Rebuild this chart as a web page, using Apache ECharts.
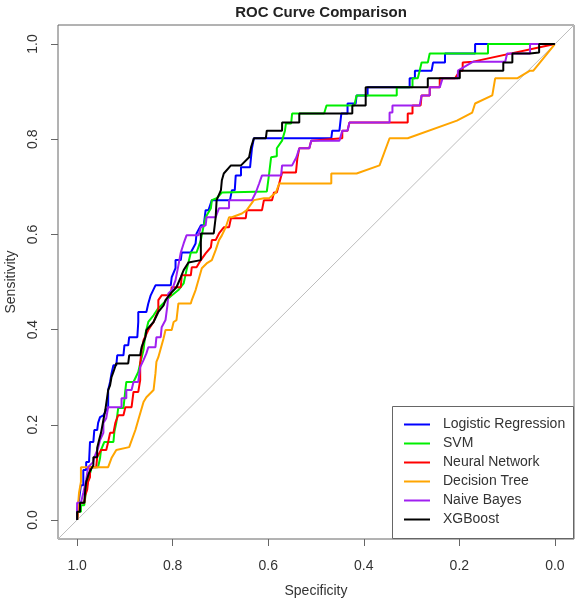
<!DOCTYPE html>
<html><head><meta charset="utf-8">
<script src="https://cdn.jsdelivr.net/npm/echarts@6/dist/echarts.min.js"></script>
<style>html,body{margin:0;padding:0;background:#fff}#c{width:578px;height:601px}</style>
</head><body><div id="c"></div>
<script>
// ---- data (specificity, sensitivity) ----
const modelNames = ['Logistic Regression','SVM','Neural Network','Decision Tree','Naive Bayes','XGBoost'];
const modelColors = ['#0000ff','#00ee00','#ff0000','#ffa500','#a020f0','#000000'];
const tickValues = [0, 0.2, 0.4, 0.6, 0.8, 1.0];
const chanceLine = [[1.04,-0.04],[-0.04,1.04]];

const logisticRoc = [[1,0],[1,.021],[.996,.021],[.996,.042],[.992,.042],[.992,.073],[.987,.073],[.987,.105],[.981,.105],[.981,.122],[.975,.122],[.973,.164],[.966,.164],[.964,.189],[.958,.189],[.956,.204],[.952,.216],[.945,.220],[.935,.237],[.935,.273],[.931,.290],[.928,.308],[.924,.325],[.918,.325],[.916,.346],[.903,.346],[.901,.367],[.893,.367],[.891,.384],[.874,.384],[.872,.416],[.872,.437],[.855,.437],[.851,.455],[.846,.472],[.836,.493],[.804,.493],[.802,.510],[.794,.529],[.794,.546],[.783,.546],[.781,.562],[.762,.562],[.752,.581],[.750,.602],[.741,.619],[.735,.619],[.731,.651],[.725,.651],[.718,.672],[.680,.672],[.676,.693],[.670,.693],[.668,.724],[.657,.724],[.657,.741],[.638,.741],[.636,.762],[.634,.781],[.630,.802],[.468,.802],[.466,.818],[.451,.818],[.447,.854],[.434,.854],[.434,.875],[.417,.875],[.415,.892],[.392,.892],[.392,.909],[.304,.909],[.304,.928],[.293,.928],[.293,.944],[.258,.944],[.255,.961],[.230,.961],[.230,.980],[.167,.980],[.167,1],[0,1]];

const svmRoc = [[1,0],[.998,0],[.998,.017],[.992,.017],[.992,.031],[.985,.031],[.981,.063],[.977,.084],[.975,.090],[.971,.105],[.971,.111],[.956,.111],[.952,.130],[.950,.147],[.943,.164],[.924,.164],[.922,.185],[.918,.204],[.914,.235],[.903,.235],[.899,.273],[.897,.290],[.882,.290],[.872,.311],[.868,.329],[.861,.357],[.857,.392],[.851,.416],[.840,.430],[.830,.445],[.813,.462],[.804,.470],[.788,.483],[.777,.497],[.771,.525],[.767,.541],[.762,.562],[.750,.562],[.741,.588],[.735,.619],[.731,.636],[.720,.655],[.718,.672],[.708,.676],[.697,.688],[.603,.690],[.598,.728],[.594,.762],[.582,.764],[.582,.781],[.571,.797],[.565,.818],[.563,.833],[.552,.833],[.550,.854],[.483,.854],[.478,.871],[.420,.871],[.415,.892],[.331,.892],[.331,.909],[.298,.909],[.298,.928],[.287,.928],[.283,.944],[.279,.961],[.266,.961],[.262,.980],[.140,.980],[.140,1],[0,1]];

const neuralRoc = [[1,0],[.998,0],[.998,.017],[.994,.017],[.994,.036],[.985,.036],[.983,.052],[.979,.063],[.977,.080],[.973,.090],[.973,.111],[.960,.111],[.958,.132],[.950,.147],[.939,.147],[.935,.164],[.931,.183],[.924,.183],[.920,.204],[.914,.220],[.903,.220],[.899,.237],[.886,.237],[.882,.269],[.872,.269],[.868,.294],[.868,.329],[.865,.357],[.861,.378],[.851,.399],[.840,.416],[.836,.420],[.830,.441],[.830,.462],[.823,.472],[.804,.472],[.802,.489],[.783,.489],[.781,.514],[.762,.514],[.760,.531],[.750,.531],[.741,.546],[.731,.560],[.720,.573],[.718,.588],[.710,.588],[.703,.602],[.693,.615],[.682,.615],[.678,.634],[.647,.634],[.645,.651],[.613,.651],[.609,.672],[.592,.672],[.588,.688],[.582,.688],[.577,.707],[.573,.709],[.571,.730],[.542,.730],[.539,.760],[.535,.781],[.514,.781],[.510,.797],[.445,.802],[.445,.818],[.434,.818],[.430,.835],[.308,.835],[.308,.854],[.298,.854],[.298,.871],[.281,.871],[.279,.892],[.262,.892],[.262,.909],[.241,.909],[.241,.928],[.209,.928],[.199,.944],[.193,.944],[.193,.961],[.171,.963],[0,1]];

const treeRoc = [[1,0],[.998,.031],[.996,.057],[.992,.080],[.992,.111],[.935,.111],[.928,.130],[.918,.147],[.891,.153],[.878,.189],[.872,.210],[.861,.248],[.855,.258],[.840,.273],[.836,.308],[.834,.332],[.830,.342],[.819,.382],[.815,.399],[.802,.399],[.798,.416],[.792,.420],[.788,.455],[.762,.455],[.760,.462],[.752,.483],[.746,.504],[.739,.529],[.729,.539],[.718,.546],[.710,.567],[.703,.588],[.697,.598],[.689,.615],[.682,.636],[.676,.636],[.655,.644],[.645,.651],[.630,.672],[.609,.676],[.598,.676],[.584,.688],[.577,.707],[.468,.707],[.468,.728],[.415,.728],[.367,.745],[.346,.802],[.308,.802],[.205,.839],[.173,.856],[.167,.875],[.131,.892],[.125,.928],[.079,.928],[.052,.944],[.045,.944],[0,1]];

const bayesRoc = [[1,0],[1,.036],[.992,.036],[.987,.057],[.981,.084],[.977,.111],[.966,.122],[.964,.132],[.956,.151],[.952,.168],[.945,.183],[.945,.204],[.939,.214],[.935,.237],[.907,.237],[.907,.256],[.897,.256],[.897,.273],[.886,.273],[.882,.290],[.872,.290],[.868,.321],[.861,.336],[.855,.350],[.851,.363],[.836,.363],[.834,.384],[.825,.384],[.823,.405],[.815,.420],[.811,.451],[.809,.476],[.802,.483],[.798,.493],[.794,.504],[.788,.535],[.783,.562],[.777,.581],[.771,.598],[.746,.598],[.741,.615],[.731,.619],[.729,.636],[.710,.636],[.703,.655],[.682,.655],[.682,.672],[.634,.672],[.626,.688],[.619,.707],[.613,.724],[.573,.724],[.571,.745],[.550,.745],[.541,.762],[.535,.781],[.514,.781],[.510,.797],[.451,.797],[.445,.818],[.434,.818],[.430,.835],[.346,.835],[.346,.856],[.340,.856],[.340,.871],[.283,.871],[.279,.892],[.262,.892],[.262,.909],[.241,.909],[.235,.928],[.203,.928],[.203,.944],[.171,.963],[.104,.963],[.100,.980],[.052,.980],[.052,1],[0,1]];

const xgbRoc = [[1,0],[1,.017],[.994,.017],[.994,.036],[.985,.036],[.983,.063],[.981,.080],[.975,.099],[.966,.115],[.966,.132],[.958,.132],[.958,.151],[.954,.168],[.950,.183],[.945,.210],[.941,.231],[.935,.273],[.931,.283],[.928,.300],[.924,.311],[.918,.329],[.893,.329],[.891,.346],[.868,.346],[.865,.363],[.857,.384],[.855,.399],[.851,.403],[.840,.416],[.830,.437],[.819,.451],[.815,.462],[.804,.476],[.792,.489],[.783,.510],[.777,.525],[.767,.541],[.741,.546],[.741,.602],[.714,.602],[.710,.636],[.708,.672],[.699,.693],[.697,.714],[.693,.728],[.678,.745],[.657,.745],[.640,.762],[.636,.783],[.630,.802],[.605,.802],[.603,.818],[.571,.818],[.571,.835],[.535,.835],[.535,.854],[.424,.854],[.424,.871],[.396,.871],[.396,.909],[.266,.909],[.266,.928],[.199,.928],[.199,.944],[.108,.944],[.108,.961],[.089,.961],[.089,.980],[.052,.980],[.033,.982],[.033,1],[0,1]];

const rocData = [logisticRoc, svmRoc, neuralRoc, treeRoc, bayesRoc, xgbRoc];

// ---- chart ----
const font = '"Liberation Sans", Arial, Helvetica, sans-serif';
const chart = echarts.init(document.getElementById('c'), null, {renderer: 'canvas'});
const axisCommon = {
  type: 'value', min: -0.04, max: 1.04,
  nameLocation: 'middle',
  nameTextStyle: {fontSize: 14, color: '#333', fontFamily: font},
  axisLine: {show: false, onZero: false},
  axisTick: {show: true, inside: false, length: 7, customValues: tickValues, lineStyle: {color: '#666', width: 1}},
  splitLine: {show: false}
};
const series = [{
  type: 'line', data: chanceLine, symbol: 'none', silent: true, z: 1,
  lineStyle: {color: '#bdbdbd', width: 1}, animation: false
}];
modelNames.forEach((n, i) => {
  series.push({
    name: n, type: 'line', data: rocData[i], symbol: 'none', showSymbol: false, z: 2 + i,
    lineStyle: {color: modelColors[i], width: 2}, itemStyle: {color: modelColors[i]}
  });
});
chart.setOption({
  animation: false,
  backgroundColor: '#ffffff',
  title: {text: 'ROC Curve Comparison', left: 316, top: 0, textAlign: 'center',
    textStyle: {fontSize: 15, fontWeight: 'bold', color: '#222', fontFamily: font}},
  grid: {left: 58, right: 4, top: 25, bottom: 62, show: true, borderColor: '#666', borderWidth: 1,
    containLabel: false, outerBoundsMode: 'none'},
  xAxis: Object.assign({}, axisCommon, {
    inverse: true, name: 'Specificity', nameGap: 45,
    axisLabel: {customValues: tickValues, formatter: v => v.toFixed(1), margin: 20, fontSize: 14, color: '#333', fontFamily: font}
  }),
  yAxis: Object.assign({}, axisCommon, {
    name: 'Sensitivity', nameGap: 40,
    axisLabel: {customValues: tickValues, formatter: v => v.toFixed(1), rotate: 90, margin: 18, fontSize: 14, color: '#333', fontFamily: font}
  }),
  legend: {
    orient: 'vertical', left: 404, top: 415, padding: 0, itemWidth: 26, itemHeight: 2, itemGap: 0, icon: 'rect', z: 20,
    data: modelNames, selectedMode: false,
    textStyle: {fontSize: 14, lineHeight: 19, color: '#333', fontFamily: font, padding: [0, 0, 0, 8]}
  },
  graphic: [{type: 'rect', z: 15, shape: {x: 392.5, y: 406.5, width: 181, height: 132},
    style: {fill: '#fff', stroke: '#666', lineWidth: 1}}],
  series: series
});
</script></body></html>
